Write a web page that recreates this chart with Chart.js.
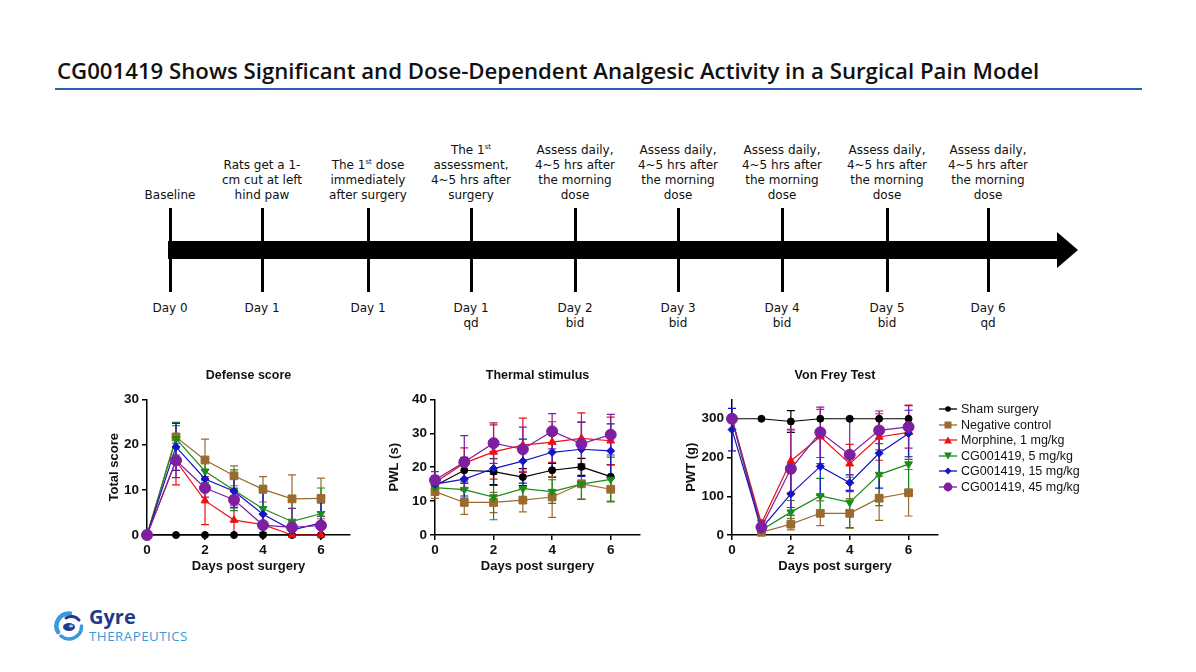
<!DOCTYPE html>
<html>
<head>
<meta charset="utf-8">
<script src="https://cdn.jsdelivr.net/npm/chart.js@4.4.1/dist/chart.umd.min.js"></script>
<style>
html, body { margin: 0; padding: 0; background: #fff; }
#slide { position: relative; width: 1196px; height: 672px; overflow: hidden; font-family: 'DejaVu Sans', sans-serif; }
.heading { position: absolute; left: 57px; top: 55px; font-family: 'Open Sans', sans-serif; font-weight: 600; font-size: 22.2px; color: #111; white-space: nowrap; }
.rule { position: absolute; left: 55px; top: 88px; width: 1087px; height: 2px; background: #2f5cb7; }
.tl-top, .tl-bot { position: absolute; width: 130px; text-align: center; font-size: 12px; line-height: 15px; color: #111; }
.tl-top sup { font-size: 7px; line-height: 0; vertical-align: 5px; }
.tick { position: absolute; top: 208px; width: 3px; height: 84px; background: #000; }
canvas { position: absolute; }
.legend { position: absolute; left: 939px; top: 402px; font-family: 'Liberation Sans', Arial, sans-serif; font-size: 12.5px; color: #111; }
.legend div { height: 15.6px; line-height: 15.6px; white-space: nowrap; }
.legend svg { vertical-align: -2px; margin-right: 4px; }
.logo-name { position: absolute; left: 89px; top: 603px; font-family: 'Open Sans', sans-serif; font-weight: 700; font-size: 20px; color: #1f3c8c; }
.logo-sub { position: absolute; left: 89px; top: 627px; font-family: 'Open Sans', sans-serif; font-size: 13.3px; color: #3a9ad9; letter-spacing: 0.5px; }
</style>
</head>
<body>
<div id="slide">
  <div class="heading">CG001419 Shows Significant and Dose-Dependent Analgesic Activity in a Surgical Pain Model</div>
  <div class="rule"></div>

  <svg style="position:absolute;left:0;top:0" width="1196" height="300">
    <rect x="168" y="241" width="892" height="18" fill="#000"/>
    <polygon points="1057,232 1078,250 1057,268" fill="#000"/>
  </svg>
  <div id="timeline"></div>

  <canvas id="defense" width="273" height="220" style="left:87px;top:360px"></canvas>
  <canvas id="thermal" width="275" height="220" style="left:375px;top:360px"></canvas>
  <canvas id="vonfrey" width="276" height="220" style="left:672px;top:360px"></canvas>
  <div class="legend" id="legend"></div>

  <svg style="position:absolute;left:54px;top:611px" width="30" height="30" viewBox="0 0 30 30">
    <path d="M16 2.5 A12.5 12.5 0 0 0 4 21" stroke="#3a9ad9" stroke-width="4.5" fill="none" stroke-linecap="round"/>
    <path d="M7 25 A12.5 12.5 0 0 0 27.5 15" stroke="#3a9ad9" stroke-width="3.5" fill="none" stroke-linecap="round"/>
    <path d="M25 9 A10 10 0 0 0 12 7" stroke="#1f3c8c" stroke-width="3" fill="none" stroke-linecap="round"/>
    <ellipse cx="15" cy="16" rx="6" ry="4" fill="#1f3c8c"/>
    <ellipse cx="17" cy="15" rx="2.2" ry="1.6" fill="#8fd0f0"/>
  </svg>
  <div class="logo-name">Gyre</div>
  <div class="logo-sub">THERAPEUTICS</div>
</div>

<script>
// timeline
const stepX = [170, 262, 368, 471, 575, 678, 782, 887, 988];
const stepNotes = [
  'Baseline',
  'Rats get a 1-<br>cm cut at left<br>hind paw',
  'The 1<sup>st</sup> dose<br>immediately<br>after surgery',
  'The 1<sup>st</sup><br>assessment,<br>4~5 hrs after<br>surgery',
  'Assess daily,<br>4~5 hrs after<br>the morning<br>dose',
  'Assess daily,<br>4~5 hrs after<br>the morning<br>dose',
  'Assess daily,<br>4~5 hrs after<br>the morning<br>dose',
  'Assess daily,<br>4~5 hrs after<br>the morning<br>dose',
  'Assess daily,<br>4~5 hrs after<br>the morning<br>dose'
];
const stepDays = ['Day 0', 'Day 1', 'Day 1', 'Day 1<br>qd', 'Day 2<br>bid', 'Day 3<br>bid', 'Day 4<br>bid', 'Day 5<br>bid', 'Day 6<br>qd'];

// chart data
const days = [0, 1, 2, 3, 4, 5, 6];
const seriesNames = ['Sham surgery', 'Negative control', 'Morphine, 1 mg/kg', 'CG001419, 5 mg/kg', 'CG001419, 15 mg/kg', 'CG001419, 45 mg/kg'];
const seriesColors = ['#000000', '#9a6b2f', '#ee1111', '#1a8c1a', '#1414c8', '#7d1fa0'];
const seriesShapes = ['circle', 'rect', 'triangle', 'triangle', 'rectRot', 'circle'];
const seriesRadius = [3.5, 5.5, 4.5, 4.5, 4, 5.5];
const seriesRotation = [0, 0, 0, 180, 0, 0];

const defenseMeans = [
  [0, 0, 0, 0, 0, 0, 0],
  [0, 21.7, 16.6, 13.1, 10.1, 8.0, 8.1],
  [0, 16.4, 7.6, 3.3, 2.3, 0, 0],
  [0, 21.3, 14.1, 9.9, 5.8, 3.0, 4.7],
  [0, 19.5, 12.4, 9.7, 4.6, 1.1, 2.7],
  [0, 16.5, 10.4, 7.8, 2.2, 1.7, 2.1]
];
const defenseErrors = [
  [0, 0, 0, 0, 0, 0, 0],
  [0, 2.5, 4.6, 2.2, 2.8, 5.3, 4.5],
  [0, 5.3, 5.3, 3.3, 2.3, 0, 0],
  [0, 3.6, 2.5, 4.5, 5.2, 4.5, 5.7],
  [0, 5.2, 2.0, 3.6, 5.4, 2.0, 4.4],
  [0, 3.8, 2.0, 1.8, 2.5, 4.2, 2.0]
];

const thermalMeans = [
  [14.5, 19.1, 18.7, 17.1, 19.1, 20.1, 17.2],
  [12.8, 9.6, 9.6, 10.3, 11.2, 15.1, 13.5],
  [15.5, 21.2, 24.5, 26.5, 27.4, 28.5, 27.8],
  [14.0, 13.4, 11.2, 13.7, 12.8, 15.0, 16.4],
  [15.0, 16.5, 19.6, 21.8, 24.4, 25.3, 24.8],
  [16.2, 21.5, 27.1, 25.3, 30.6, 26.9, 29.6]
];
const thermalErrors = [
  [1.0, 3.8, 3.8, 2.5, 2.0, 2.5, 3.5],
  [2.0, 3.5, 3.0, 3.5, 6.0, 4.5, 3.5],
  [2.0, 4.5, 8.0, 8.0, 6.0, 7.5, 7.0],
  [1.5, 2.5, 6.7, 3.5, 3.5, 4.5, 6.6],
  [1.5, 5.0, 5.0, 6.5, 5.0, 8.0, 8.0],
  [2.5, 7.8, 6.0, 6.5, 5.2, 6.3, 6.0]
];

const vonFreyMeans = [
  [300, 300, 293, 300, 300, 300, 300],
  [300, 7, 28, 56, 56, 95, 109],
  [300, 30, 191, 254, 184, 253, 265],
  [300, 13, 59, 101, 84, 156, 183],
  [272, 17, 106, 177, 135, 211, 262],
  [300, 20, 171, 265, 207, 270, 279]
];
const vonFreyErrors = [
  [0, 0, 28, 0, 0, 0, 0],
  [0, 5, 15, 32, 38, 57, 60],
  [0, 8, 82, 70, 50, 60, 70],
  [0, 5, 30, 45, 65, 80, 80],
  [55, 10, 55, 75, 20, 90, 60],
  [0, 15, 100, 65, 95, 50, 55]
];

const timeline = document.getElementById('timeline');
stepX.forEach((x, i) => {
  const line = document.createElement('div');
  line.className = 'tick';
  line.style.left = (x - 1.5) + 'px';
  timeline.appendChild(line);

  const top = document.createElement('div');
  top.className = 'tl-top';
  top.style.left = (x - 65) + 'px';
  top.style.bottom = (672 - 203) + 'px';
  top.innerHTML = stepNotes[i];
  timeline.appendChild(top);

  const bot = document.createElement('div');
  bot.className = 'tl-bot';
  bot.style.left = (x - 65) + 'px';
  bot.style.top = '301px';
  bot.innerHTML = stepDays[i];
  timeline.appendChild(bot);
});

// error bars drawn under the lines
const errorBars = {
  id: 'errorBars',
  beforeDatasetsDraw(chart) {
    const ctx = chart.ctx;
    const xs = chart.scales.x, ys = chart.scales.y;
    chart.data.datasets.forEach(ds => {
      ctx.save();
      ctx.strokeStyle = ds.borderColor;
      ctx.lineWidth = 1.2;
      ds.data.forEach((p, j) => {
        const e = ds.errors[j];
        if (!e) return;
        const x = xs.getPixelForValue(p.x);
        const hi = ys.getPixelForValue(p.y + e);
        const lo = ys.getPixelForValue(Math.max(p.y - e, 0));
        ctx.beginPath();
        ctx.moveTo(x, hi); ctx.lineTo(x, lo);
        ctx.moveTo(x - 4, hi); ctx.lineTo(x + 4, hi);
        ctx.moveTo(x - 4, lo); ctx.lineTo(x + 4, lo);
        ctx.stroke();
      });
      ctx.restore();
    });
  }
};

const boldFont = size => ({ family: "'Liberation Sans', Arial, sans-serif", size: size, weight: 'bold' });

function makeChart(id, title, yTitle, yMax, yStep, yTickValues, means, errors, yTitlePad) {
  const datasets = seriesNames.map((name, i) => ({
    label: name,
    data: days.map((d, j) => ({ x: d, y: means[i][j] })),
    errors: errors[i],
    borderColor: seriesColors[i],
    backgroundColor: seriesColors[i],
    borderWidth: 1.2,
    pointStyle: seriesShapes[i],
    pointRadius: seriesRadius[i],
    pointRotation: seriesRotation[i],
    pointBorderWidth: 1,
    clip: false,
    order: seriesNames.length - i
  }));

  return new Chart(document.getElementById(id), {
    type: 'line',
    data: { datasets },
    plugins: [errorBars],
    options: {
      responsive: false,
      animation: false,
      layout: { padding: { left: 0, right: 10, top: 0, bottom: 0 } },
      plugins: {
        legend: { display: false },
        tooltip: { enabled: false },
        title: {
          display: true,
          text: title,
          fullSize: false,
          color: '#111',
          font: boldFont(12.5),
          padding: { top: 8, bottom: 16.4 }
        }
      },
      scales: {
        x: {
          type: 'linear',
          min: 0,
          max: 7,
          afterBuildTicks: s => { s.ticks = [0, 2, 4, 6].map(v => ({ value: v })); },
          afterFit: s => { s.height = 45; },
          grid: { drawOnChartArea: false, drawTicks: true, tickLength: 5, color: '#000', lineWidth: 1.5 },
          border: { color: '#000', width: 1.5 },
          ticks: { color: '#111', font: boldFont(13.5), padding: 2, maxRotation: 0 },
          title: { display: true, text: 'Days post surgery', color: '#111', font: boldFont(13), padding: { top: 0, bottom: 6 } }
        },
        y: {
          type: 'linear',
          min: 0,
          max: yMax,
          ticks: { stepSize: yStep, color: '#111', font: boldFont(13.5), padding: 3 },
          afterBuildTicks: s => { s.ticks = yTickValues.map(v => ({ value: v })); },
          afterFit: s => { s.width = 60; },
          grid: { drawOnChartArea: false, drawTicks: true, tickLength: 5, color: '#000', lineWidth: 1.5 },
          border: { color: '#000', width: 1.5 },
          title: { display: true, text: yTitle, color: '#111', font: boldFont(13), padding: { top: yTitlePad, bottom: 0 } }
        }
      }
    }
  });
}

makeChart('defense', 'Defense score', 'Total score', 30, 10, [0, 10, 20, 30], defenseMeans, defenseErrors, 20);
makeChart('thermal', 'Thermal stimulus', 'PWL (s)', 40, 10, [0, 10, 20, 30, 40], thermalMeans, thermalErrors, 12);
makeChart('vonfrey', 'Von Frey Test', 'PWT (g)', 350, 100, [0, 100, 200, 300], vonFreyMeans, vonFreyErrors, 12);

// legend
function markerSvg(i) {
  const c = seriesColors[i];
  let m;
  if (seriesShapes[i] === 'circle') m = `<circle cx="9" cy="6" r="${seriesRadius[i] * 0.8}" fill="${c}"/>`;
  else if (seriesShapes[i] === 'rect') m = `<rect x="5.5" y="2.5" width="7" height="7" fill="${c}"/>`;
  else if (seriesShapes[i] === 'rectRot') m = `<polygon points="9,2.5 12.5,6 9,9.5 5.5,6" fill="${c}"/>`;
  else if (seriesRotation[i] === 180) m = `<polygon points="5,2.5 13,2.5 9,9.5" fill="${c}"/>`;
  else m = `<polygon points="5,9.5 13,9.5 9,2.5" fill="${c}"/>`;
  return `<svg width="18" height="12"><line x1="0" y1="6" x2="18" y2="6" stroke="${c}" stroke-width="1.3"/>${m}</svg>`;
}
document.getElementById('legend').innerHTML = seriesNames.map((n, i) => `<div>${markerSvg(i)}${n}</div>`).join('');
</script>
</body>
</html>
